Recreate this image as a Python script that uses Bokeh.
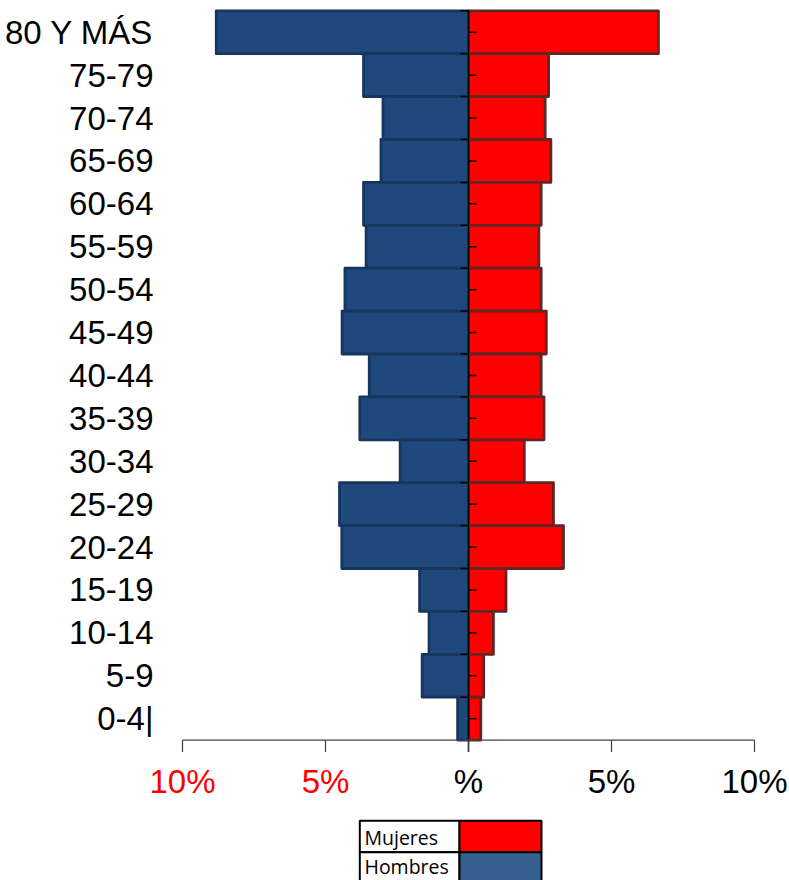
from bokeh.plotting import figure
from bokeh.models import ColumnDataSource, Range1d
from bokeh.core.properties import value
from bokeh.embed import file_html
from bokeh.resources import INLINE

# ---- data -------------------------------------------------------------
GRUPOS = ["80 Y MÁS", "75-79", "70-74", "65-69", "60-64", "55-59", "50-54",
          "45-49", "40-44", "35-39", "30-34", "25-29", "20-24", "15-19",
          "10-14", "5-9", "0-4|"]
HOMBRES = [8.82, 3.67, 2.99, 3.06, 3.67, 3.58, 4.32, 4.42, 3.47, 3.80,
           2.39, 4.51, 4.43, 1.71, 1.38, 1.62, 0.38]
MUJERES = [6.64, 2.80, 2.68, 2.88, 2.54, 2.46, 2.54, 2.72, 2.54, 2.64,
           1.95, 2.97, 3.32, 1.31, 0.87, 0.53, 0.43]
X_TICKS = [-10, -5, 0, 5, 10]
X_TICK_LABELS = ["10%", "5%", "%", "5%", "10%"]
X_TICK_COLORS = ["#FF0000", "#FF0000", "#000000", "#000000", "#000000"]
LEGEND_LABELS = ["Mujeres", "Hombres"]
LEGEND_COLORS = ["#FF0000", "#376092"]

# ---- layout (page pixels) --------------------------------------------
W, H = 789, 880
N = len(GRUPOS)
PPX = 28.6          # pixels per percentage point
X_ZERO_PX = 468.0   # page x of the 0 % line
BAND_PX = 42.9      # pixels per age band
TOP_PX = 10.3       # page y of the top of the first band


def dx(px):
    return (px - X_ZERO_PX) / PPX


def dy(py):
    return N - (py - TOP_PX) / BAND_PX


y_pos = [N - 0.5 - i for i in range(N)]
src = ColumnDataSource(dict(
    y=y_pos, grupo=GRUPOS,
    h_left=[-v for v in HOMBRES], m_right=MUJERES,
))

p = figure(width=W, height=H, x_range=Range1d(dx(0), dx(W)),
           y_range=Range1d(dy(H), dy(0)), output_backend="svg",
           toolbar_location=None, x_axis_location=None,
           y_axis_location=None, min_border=0,
           min_border_left=0, min_border_right=0,
           min_border_top=0, min_border_bottom=0)
p.xgrid.visible = False
p.ygrid.visible = False
p.outline_line_color = None
p.background_fill_color = "white"
p.border_fill_color = "white"

# bars
p.hbar(y="y", height=1, left="h_left", right=0, source=src,
       fill_color="#1F497D", line_color="#17365D", line_width=2.8,
       line_join="round")
p.hbar(y="y", height=1, left=0, right="m_right", source=src,
       fill_color="#FF0000", line_color="#632523", line_width=2.8,
       line_join="round")

# category labels
p.text(x=dx(153), y="y", text="grupo", source=src,
       text_font=value("Liberation Sans"), text_font_size="33px",
       text_color="black", text_align="right", text_baseline="middle")

# central axis with ticks
tick_len_x = 8 / PPX
tick_len_y = 12 / BAND_PX
p.segment(x0=[0], y0=[-tick_len_y], x1=[0], y1=[N], line_color="black",
          line_width=1.5)
bounds = list(range(1, N + 1))
p.segment(x0=[-tick_len_x] * len(bounds), y0=bounds, x1=[0] * len(bounds),
          y1=bounds, line_color="black", line_width=1.5)
p.segment(x0=[0] * N, y0=y_pos, x1=[tick_len_x] * N, y1=y_pos,
          line_color="black", line_width=1.5)

# horizontal axis
p.segment(x0=[X_TICKS[0]], y0=[0], x1=[X_TICKS[-1]], y1=[0],
          line_color="#404040", line_width=1.2)
p.segment(x0=X_TICKS, y0=[0] * len(X_TICKS), x1=X_TICKS,
          y1=[-tick_len_y] * len(X_TICKS), line_color="#404040",
          line_width=1.2)
tsrc = ColumnDataSource(dict(x=X_TICKS, y=[dy(780.8)] * len(X_TICKS),
                             t=X_TICK_LABELS, c=X_TICK_COLORS))
p.text(x="x", y="y", text="t", text_color="c", source=tsrc,
       text_font=value("Liberation Sans"), text_font_size="33px",
       text_align="center", text_baseline="middle")

# legend (table style)
rows_top = [dy(820.3), dy(851.7)]
rows_bot = [dy(851.7), dy(900)]
n_leg = len(LEGEND_LABELS)
p.quad(left=[dx(359.3)] * n_leg, right=[dx(459)] * n_leg,
       top=rows_top, bottom=rows_bot, fill_color="white",
       line_color="black", line_width=2)
p.quad(left=[dx(459)] * n_leg, right=[dx(541)] * n_leg,
       top=rows_top, bottom=rows_bot, fill_color=LEGEND_COLORS,
       line_color="black", line_width=2)
p.text(x=[dx(364)] * n_leg, y=[dy(837.0), dy(866.3)], text=LEGEND_LABELS,
       text_font=value("Open Sans"), text_font_size="19.5px",
       text_color="black", text_align="left", text_baseline="middle")

open("out.html", "w").write(file_html(p, INLINE))
